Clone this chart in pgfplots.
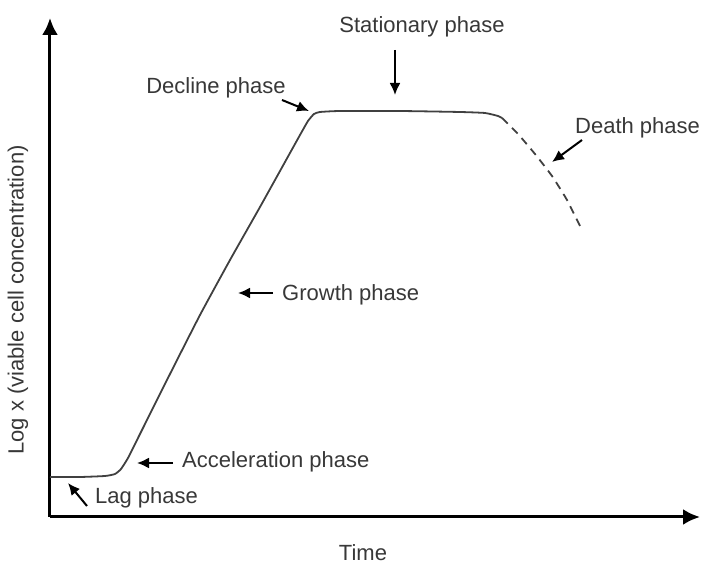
\documentclass[border=0pt]{standalone}
\usepackage{pgfplots}
\pgfplotsset{compat=1.18}
\usepackage{fontspec}
\setmainfont{Liberation Sans}
\usetikzlibrary{arrows.meta}
\definecolor{txt}{HTML}{383838}
\definecolor{crv}{HTML}{404040}
\begin{document}
\begin{tikzpicture}[font=\fontsize{22}{26}\selectfont]
\begin{axis}[x=1pt,y=1pt,xmin=50,xmax=700,ymin=50,ymax=549,
  axis lines=left, ticks=none, clip=false,
  axis line style={line width=3pt,black,-{Latex[length=17pt,width=16pt]}}]
\path (axis cs:0,0) rectangle (axis cs:704,567);
\addplot[crv,line width=1.8pt,smooth,tension=0.3] coordinates {
(50,90) (80,90) (105,91) (115,93) (121,98) (128,109) (140,133) (170,193)
(200,252) (230,307) (260,360) (285,405) (300,432) (308,446)
(314,453) (320,455) (340,456) (400,456) (460,455) (485,454) (498,451) (502,449)};
\addplot[crv,line width=1.8pt,dash pattern=on 8pt off 6pt,smooth,tension=0.3] coordinates {
(502,449) (518,433) (535,413) (552,391) (567,367) (582,337)};
\begin{scope}[txt,inner sep=0pt]
\node at (axis cs:216,479) {Decline phase};
\node at (axis cs:422,540) {Stationary phase};
\node[anchor=west] at (axis cs:575,439) {Death phase};
\node[anchor=west] at (axis cs:282,272) {Growth phase};
\node[anchor=west] at (axis cs:182,105) {Acceleration phase};
\node[anchor=west] at (axis cs:95,69) {Lag phase};
\node at (axis cs:363,14) {Time};
\node[rotate=90] at (axis cs:18,267) {Log x (viable cell concentration)};
\end{scope}
\begin{scope}[black,line width=2pt,-{Latex[length=12pt,width=11pt]}]
\draw (axis cs:282,467) -- (axis cs:309,456);
\draw (axis cs:395,517) -- (axis cs:395,472);
\draw (axis cs:582,427) -- (axis cs:552,405);
\draw (axis cs:273,274) -- (axis cs:238,274);
\draw (axis cs:173,104) -- (axis cs:137,104);
\draw (axis cs:87,61) -- (axis cs:68,84);
\end{scope}
\end{axis}
\end{tikzpicture}
\end{document}
